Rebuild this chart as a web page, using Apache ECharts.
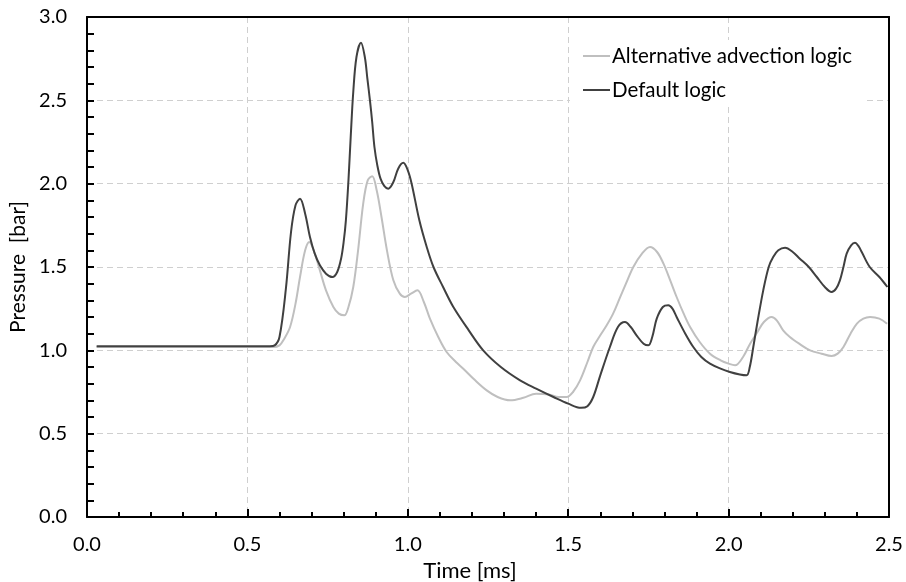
<!DOCTYPE html>
<html>
<head>
<meta charset="utf-8">
<script src="https://cdn.jsdelivr.net/npm/echarts@6/dist/echarts.min.js"></script>
<style>html,body{margin:0;padding:0;background:#fff}#c{width:906px;height:582px}</style>
</head>
<body>
<div id="c"></div>
<script>
var seriesNames = ['Alternative advection logic', 'Default logic'];
var xTitle = 'Time [ms]';
var yTitle = 'Pressure  [bar]';

var timeAlt = [0.03,0.30,0.58,0.60,0.615,0.633,0.65,0.664,0.68,0.693,0.71,0.726,0.745,0.768,0.785,0.802,0.815,0.83,0.845,0.861,0.875,0.889,0.903,0.918,0.935,0.955,0.975,0.991,1.01,1.03,1.05,1.069,1.095,1.121,1.15,1.173,1.21,1.246,1.28,1.319,1.36,1.40,1.44,1.47,1.495,1.515,1.537,1.56,1.578,1.60,1.62,1.64,1.66,1.68,1.703,1.73,1.755,1.777,1.797,1.818,1.838,1.86,1.88,1.91,1.942,1.975,2.00,2.02,2.045,2.067,2.09,2.11,2.134,2.15,2.17,2.191,2.22,2.254,2.29,2.321,2.34,2.358,2.38,2.40,2.42,2.441,2.47,2.494];
var pressureAlt = [1.02,1.02,1.02,1.03,1.07,1.14,1.28,1.44,1.60,1.65,1.58,1.48,1.36,1.26,1.22,1.21,1.26,1.38,1.60,1.88,2.02,2.045,1.96,1.80,1.60,1.42,1.34,1.32,1.34,1.36,1.29,1.19,1.08,0.99,0.93,0.89,0.82,0.76,0.72,0.70,0.715,0.74,0.735,0.72,0.72,0.75,0.82,0.93,1.02,1.09,1.15,1.22,1.31,1.40,1.50,1.58,1.62,1.59,1.52,1.42,1.32,1.22,1.14,1.05,0.98,0.94,0.92,0.91,0.96,1.04,1.11,1.17,1.20,1.18,1.12,1.08,1.04,1.00,0.98,0.966,0.98,1.02,1.10,1.16,1.19,1.20,1.19,1.16];

var timeDef = [0.03,0.30,0.57,0.585,0.60,0.62,0.636,0.65,0.664,0.68,0.695,0.71,0.726,0.745,0.765,0.78,0.792,0.80,0.807,0.815,0.822,0.83,0.84,0.854,0.866,0.874,0.882,0.889,0.896,0.905,0.915,0.927,0.939,0.955,0.97,0.986,1.00,1.012,1.036,1.059,1.08,1.11,1.142,1.19,1.235,1.29,1.35,1.40,1.454,1.50,1.54,1.56,1.578,1.60,1.63,1.655,1.677,1.695,1.713,1.735,1.75,1.762,1.776,1.795,1.812,1.825,1.838,1.865,1.89,1.915,1.942,1.975,2.004,2.035,2.056,2.066,2.077,2.09,2.108,2.125,2.139,2.155,2.176,2.20,2.222,2.25,2.275,2.30,2.321,2.335,2.347,2.358,2.368,2.382,2.394,2.405,2.415,2.44,2.47,2.495];
var pressureDef = [1.025,1.025,1.025,1.03,1.08,1.37,1.71,1.87,1.91,1.82,1.68,1.58,1.51,1.46,1.44,1.47,1.55,1.65,1.78,2.02,2.28,2.55,2.76,2.845,2.76,2.63,2.50,2.37,2.22,2.11,2.03,1.985,1.97,2.01,2.09,2.125,2.08,2.00,1.78,1.62,1.50,1.38,1.26,1.12,1.00,0.90,0.82,0.77,0.72,0.68,0.655,0.665,0.72,0.85,1.02,1.14,1.17,1.14,1.09,1.04,1.03,1.08,1.19,1.26,1.27,1.25,1.20,1.10,1.02,0.96,0.92,0.89,0.87,0.855,0.85,0.90,1.02,1.17,1.36,1.50,1.56,1.60,1.615,1.59,1.55,1.50,1.44,1.38,1.35,1.37,1.42,1.50,1.58,1.63,1.645,1.625,1.59,1.50,1.44,1.38];

function pairs(xs, ys) { return xs.map(function (x, i) { return [x, ys[i]]; }); }

var FONT = 'Lato';
var frameAxis = {
  axisLine: {show: true, onZero: false, lineStyle: {color: '#000', width: 2}},
  axisTick: {show: false}, axisLabel: {show: false}, splitLine: {show: false}
};
var chart = echarts.init(document.getElementById('c'), null, {renderer: 'canvas'});
chart.setOption({
  animation: false,
  backgroundColor: '#fff',
  grid: {left: 87, right: 17, top: 17, bottom: 65},
  xAxis: [{
    type: 'value', min: 0, max: 2.5, interval: 0.5,
    axisLine: {show: true, onZero: false, lineStyle: {color: '#000', width: 2}},
    axisTick: {show: true, inside: true, length: 8, lineStyle: {color: '#000', width: 2}},
    minorTick: {show: true, splitNumber: 5, length: 5, lineStyle: {color: '#000', width: 2}},
    axisLabel: {margin: 18, color: '#000', fontFamily: FONT, fontSize: 20, formatter: function (v) { return v.toFixed(1); }},
    splitLine: {show: true, lineStyle: {color: '#cfcfcf', width: 1, type: [6, 4]}}
  }, Object.assign({type: 'value', min: 0, max: 2.5, position: 'top'}, frameAxis)],
  yAxis: [{
    type: 'value', min: 0, max: 3, interval: 0.5,
    axisLine: {show: true, onZero: false, lineStyle: {color: '#000', width: 2}},
    axisTick: {show: true, inside: true, length: 7, lineStyle: {color: '#000', width: 2}},
    minorTick: {show: true, splitNumber: 5, length: 7, lineStyle: {color: '#000', width: 2}},
    axisLabel: {margin: 20, color: '#000', fontFamily: FONT, fontSize: 20, formatter: function (v) { return v.toFixed(1); }},
    splitLine: {show: true, lineStyle: {color: '#cfcfcf', width: 1, type: [6, 4]}}
  }, Object.assign({type: 'value', min: 0, max: 3, position: 'right'}, frameAxis)],
  legend: {
    orient: 'vertical', left: 570, top: 40, padding: [5, 14, 5, 13],
    backgroundColor: '#fff', itemWidth: 27, itemHeight: 2, itemGap: 12, icon: 'rect',
    textStyle: {fontFamily: FONT, fontSize: 20.5, color: '#000', lineHeight: 22, padding: [0, 0, 0, -3]},
    data: seriesNames
  },
  graphic: [
    {type: 'text', x: 470, y: 571, style: {text: xTitle, font: '22px ' + FONT, fill: '#000', textAlign: 'center', textVerticalAlign: 'middle'}, z: 10},
    {type: 'text', rotation: Math.PI / 2, x: 18, y: 267, style: {text: yTitle, font: '21px ' + FONT, fill: '#000', textAlign: 'center', textVerticalAlign: 'middle'}, z: 10}
  ],
  series: [
    {name: seriesNames[0], type: 'line', data: pairs(timeAlt, pressureAlt), symbol: 'none', smooth: 0.35,
     lineStyle: {color: '#bfbfbf', width: 2}, itemStyle: {color: '#bfbfbf'}, z: 2},
    {name: seriesNames[1], type: 'line', data: pairs(timeDef, pressureDef), symbol: 'none', smooth: 0.35,
     lineStyle: {color: '#404040', width: 2}, itemStyle: {color: '#404040'}, z: 3}
  ]
});
</script>
</body>
</html>
